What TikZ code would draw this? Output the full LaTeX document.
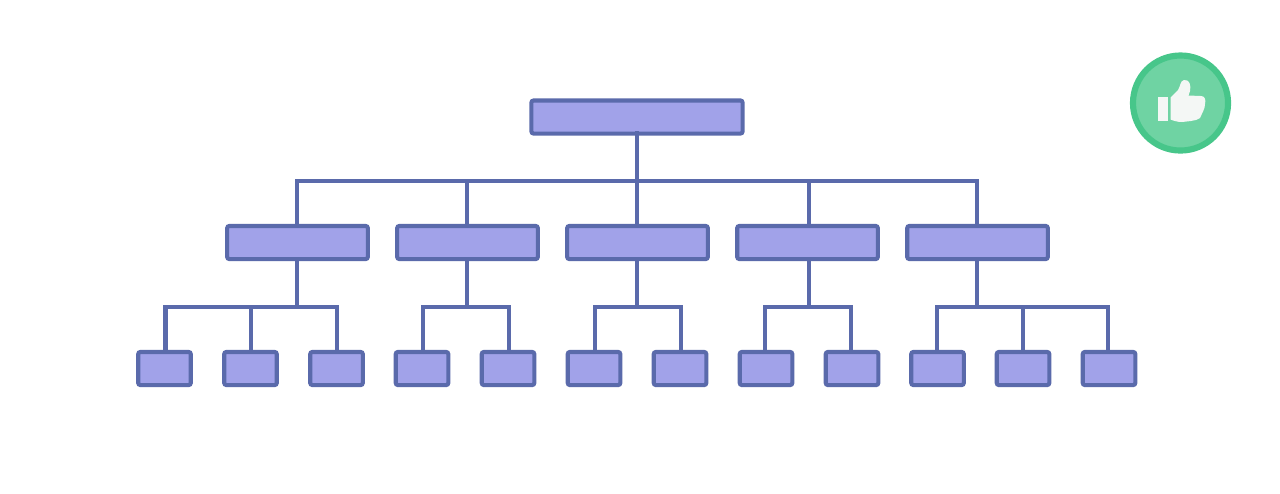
\documentclass[tikz,border=0pt]{standalone}
\usepackage{xcolor}
\definecolor{boxfill}{HTML}{A1A2E9}
\definecolor{boxline}{HTML}{5A6AAB}
\definecolor{badgefill}{HTML}{6FD3A3}
\definecolor{badgeline}{HTML}{47C68A}
\definecolor{thumbfill}{HTML}{F4F7F5}
\tikzset{
  conn/.style={draw=boxline, line width=1.2pt, line cap=rect},
  rootbox/.style={draw=boxline, fill=boxfill, line width=1.15pt, rounded corners=0.02cm, outer sep=0pt, inner sep=0pt, minimum width=2.11cm, minimum height=0.33cm},
  midbox/.style={rootbox, minimum width=1.405cm},
  leafbox/.style={rootbox, minimum width=0.525cm},
  badge/.style={circle, draw=badgeline, fill=badgefill, line width=1.75pt, outer sep=0pt, inner sep=0pt, minimum size=0.95cm}
}

\begin{document}
\begin{tikzpicture}[x=0.01cm, y=-0.01cm]
  \useasboundingbox (0,0) rectangle (1280,493);

  % connectors first, boxes lie over their ends
  \coordinate (topC) at (636.6,181);
  \coordinate (topA) at (297,181);
  \coordinate (topB) at (466.6,181);
  \coordinate (topD) at (808.6,181);
  \coordinate (topE) at (976.6,181);
  \coordinate (subA) at (297,307);
  \coordinate (subB) at (466.6,307);
  \coordinate (subC) at (636.6,307);
  \coordinate (subD) at (808.6,307);
  \coordinate (subE) at (976.6,307);
  \coordinate (dropa) at (165.5,307);
  \coordinate (dropb) at (251,307);
  \coordinate (dropc) at (337,307);
  \coordinate (dropd) at (423,307);
  \coordinate (drope) at (509,307);
  \coordinate (dropf) at (595,307);
  \coordinate (dropg) at (681,307);
  \coordinate (droph) at (765,307);
  \coordinate (dropi) at (851,307);
  \coordinate (dropj) at (937,307);
  \coordinate (dropk) at (1022.6,307);
  \coordinate (dropl) at (1108,307);

  % boxes
  \node[rootbox] (root) at (637,117) {};
  \foreach \name/\xpos in {A/297.5, B/467.5, C/637.5, D/807.5, E/977.5}
    \node[midbox] (mid\name) at (\xpos,242.5) {};
  \foreach \name/\xpos in {a/164.5, b/250.5, c/336.5, d/422, e/508, f/594, g/680, h/766, i/852, j/937.5, k/1023, l/1109}
    \node[leafbox] (leaf\name) at (\xpos,368.5) {};

  % top level
  \draw[conn] (root.south -| topC) -- (topC);
  \draw[conn] (topA) -- (topE);
  \foreach \name in {A,B,C,D,E}
    \draw[conn] (top\name) -- (top\name |- mid\name.north);

  % second level
  \foreach \name in {A,B,C,D,E}
    \draw[conn] (mid\name.south -| sub\name) -- (sub\name);
  \draw[conn] (dropa) -- (dropc);
  \draw[conn] (dropd) -- (drope);
  \draw[conn] (dropf) -- (dropg);
  \draw[conn] (droph) -- (dropi);
  \draw[conn] (dropj) -- (dropl);
  \foreach \name in {a,b,c,d,e,f,g,h,i,j,k,l}
    \draw[conn] (drop\name) -- (drop\name |- leaf\name.north);

  % badge
  \node[badge] (thumbs) at (1180.5,103) {};
  \fill[thumbfill] (1157.7,96.7) rectangle (1167.7,120.5);
  \fill[thumbfill] (1170.5,97.5) -- (1178,90) .. controls (1181,85) and (1180,81) .. (1184,80)
    .. controls (1190,79) and (1191,86) .. (1190,91) -- (1188.5,95.5) -- (1201,96)
    .. controls (1205,96) and (1206,100) .. (1205,104)
    .. controls (1205,109) and (1202,113) .. (1200,118)
    .. controls (1198,120) and (1195,120) .. (1191,121)
    -- (1182,122) .. controls (1177,122) and (1173,120.5) .. (1170.5,119.5) -- cycle;
\end{tikzpicture}
\end{document}
